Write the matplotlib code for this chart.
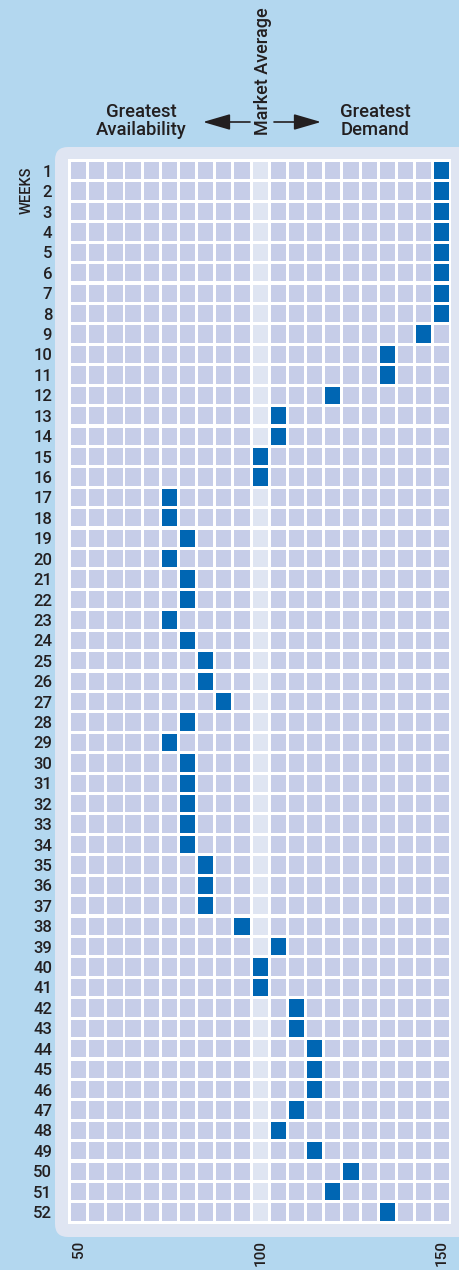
import matplotlib.pyplot as plt
from matplotlib.patches import Rectangle, FancyBboxPatch

# 数据: 每周的指数值 (50~150, 步长 5)
weeks = list(range(1, 53))
values = [150, 150, 150, 150, 150, 150, 150, 150, 145, 135,
          135, 120, 105, 105, 100, 100, 75, 75, 80, 75,
          80, 80, 75, 80, 85, 85, 90, 80, 75, 80,
          80, 80, 80, 80, 85, 85, 85, 95, 105, 100,
          100, 110, 110, 115, 115, 115, 110, 105, 115, 125,
          120, 135]
columns = list(range(50, 155, 5))
market_avg = 100
x_ticks = [50, 100, 150]

BG = '#b3d7ef'
PANEL = '#dfe5f2'
CELL = '#c6cde8'
AVG_CELL = '#dfe5f2'
MARK = '#0066b3'
TXT = '#231f20'

plt.rcParams['font.family'] = ['Roboto', 'DejaVu Sans']
plt.rcParams['font.weight'] = 'medium'

W, H = 459, 1270
fig = plt.figure(figsize=(W / 100, H / 100), dpi=100, facecolor=BG)

# 背景层 (像素坐标)
bg = fig.add_axes([0, 0, 1, 1], zorder=0)
bg.set_xlim(0, W)
bg.set_ylim(H, 0)
bg.axis('off')
bg.add_patch(FancyBboxPatch((55, 147), 440, 1090,
                            boxstyle='round,pad=0,rounding_size=13',
                            fc=PANEL, ec='none'))
bg.add_patch(Rectangle((68.3, 159.3), 382.7, 1064.7, fc='white', ec='none'))

hdr = dict(fontsize=13.3, color=TXT, fontweight='medium')
bg.text(141, 121, 'Greatest\nAvailability', ha='center', va='center',
        linespacing=0.98, **hdr)
bg.text(375, 121, 'Greatest\nDemand', ha='center', va='center',
        linespacing=0.98, **hdr)
bg.text(263, 135, 'Market Average', ha='center', va='bottom', rotation=90,
        fontsize=13, color=TXT, fontweight='medium')
arrow = dict(arrowstyle='-|>,head_length=1.2,head_width=0.35',
             color=TXT, lw=1.2, shrinkA=0, shrinkB=0, mutation_scale=14)
bg.annotate('', xy=(203, 122), xytext=(250, 122), arrowprops=arrow)
bg.annotate('', xy=(321, 122), xytext=(274, 122), arrowprops=arrow)
bg.text(27, 190, 'WEEKS', ha='center', va='center', rotation=90,
        fontsize=10.5, color=TXT, fontweight='medium')

# 主网格
x0, x1 = 69.5, 450.9
y0, y1 = 160.5, 1222.3
ax = fig.add_axes([x0 / W, 1 - y1 / H, (x1 - x0) / W, (y1 - y0) / H], zorder=1)
ax.set_facecolor('none')
ax.set_xlim(columns[0] - 2.5, columns[-1] + 2.5)
ax.set_ylim(weeks[-1] + 0.5, weeks[0] - 0.5)
for s in ax.spines.values():
    s.set_visible(False)

cw = 5 * 15.2 / 18.16
ch = 17.3 / 20.42
for wk in weeks:
    for c in columns:
        fc = AVG_CELL if c == market_avg else CELL
        ax.add_patch(Rectangle((c - cw / 2, wk - ch / 2), cw, ch, fc=fc, ec='none'))
for wk, v in zip(weeks, values):
    ax.add_patch(Rectangle((v - cw / 2, wk - ch / 2), cw, ch, fc=MARK, ec='none'))

ax.set_yticks(weeks)
ax.set_yticklabels([str(w) for w in weeks], fontsize=12, color=TXT, fontweight='medium')
ax.set_xticks(x_ticks)
ax.set_xticklabels([str(t) for t in x_ticks], rotation=90, fontsize=11,
                   color=TXT, fontweight='medium')
ax.tick_params(axis='y', length=0, pad=12.5)
ax.tick_params(axis='x', length=0, pad=13)

fig.savefig('out.png', dpi=100, facecolor=BG)
